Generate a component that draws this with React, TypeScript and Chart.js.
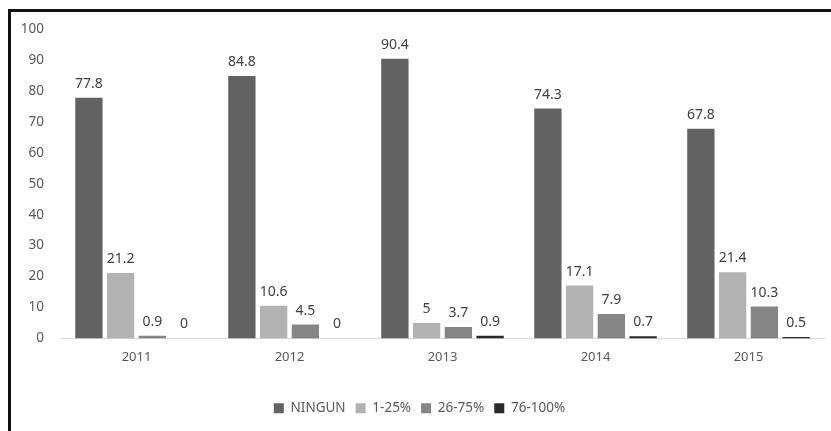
import React, { useEffect, useRef } from "react";
import { Chart, registerables } from "chart.js";

Chart.register(...registerables);

const categories = ["2011", "2012", "2013", "2014", "2015"];
const seriesNames = ["NINGUN", "1-25%", "26-75%", "76-100%"];
const ningun = [77.8, 84.8, 90.4, 74.3, 67.8];
const pct1to25 = [21.2, 10.6, 5, 17.1, 21.4];
const pct26to75 = [0.9, 4.5, 3.7, 7.9, 10.3];
const pct76to100 = [0, 0, 0.9, 0.7, 0.5];
const seriesColors = ["#626262", "#b2b2b2", "#858585", "#2a2a2a"];
const yMin = 0;
const yMax = 100;
const yStep = 10;

const FONT = "'Noto Sans', 'Open Sans', sans-serif";

const valueLabels = {
  id: "valueLabels",
  afterDatasetsDraw(chart: any) {
    const ctx = chart.ctx;
    ctx.save();
    ctx.font = `14px ${FONT}`;
    ctx.fillStyle = "#404040";
    ctx.textAlign = "center";
    ctx.textBaseline = "bottom";
    chart.data.datasets.forEach((ds: any, i: number) => {
      const meta = chart.getDatasetMeta(i);
      meta.data.forEach((el: any, j: number) => {
        const v = ds.data[j];
        ctx.fillText(String(v), el.x, el.y - 7);
      });
    });
    ctx.restore();
  },
};

export default function App() {
  const ref = useRef<HTMLCanvasElement | null>(null);
  useEffect(() => {
    if (!ref.current) return;
    const data = [ningun, pct1to25, pct26to75, pct76to100];
    const chart = new Chart(ref.current, {
      type: "bar",
      data: {
        labels: categories,
        datasets: seriesNames.map((name, i) => ({
          label: name,
          data: data[i],
          backgroundColor: seriesColors[i],
          borderWidth: 0,
          categoryPercentage: 0.83,
          barPercentage: 0.86,
        })),
      },
      options: {
        responsive: false,
        animation: false,
        devicePixelRatio: 1,
        layout: { padding: { left: 14, right: 6, top: 29, bottom: 6 } },
        plugins: {
          tooltip: { enabled: false },
          legend: {
            position: "bottom",
            labels: {
              boxWidth: 10,
              boxHeight: 10,
              padding: 10,
              color: "#595959",
              font: { size: 13.5, family: FONT },
            },
          },
        },
        scales: {
          x: {
            grid: { display: false },
            border: { display: true, color: "#d9d9d9", width: 1 },
            ticks: { color: "#595959", font: { size: 13, family: FONT }, padding: 3 },
            afterFit(scale: any) {
              scale.height = 53;
            },
          },
          y: {
            min: yMin,
            max: yMax,
            grid: { display: false },
            border: { display: false },
            ticks: {
              stepSize: yStep,
              color: "#595959",
              font: { size: 13.5, family: FONT },
              padding: 8,
            },
            afterFit(scale: any) {
              scale.width = 46;
            },
          },
        },
      },
      plugins: [valueLabels],
    });
    return () => chart.destroy();
  }, []);
  return (
    <div style={{ position: "fixed", left: 0, top: 0, width: 831, height: 431, overflow: "hidden", background: "#fff" }}>
      <canvas ref={ref} width={831} height={431} style={{ position: "absolute", left: 0, top: 0 }} />
      <div
        style={{
          position: "absolute",
          left: 8,
          top: 9,
          width: 900,
          height: 500,
          borderLeft: "3px solid #111",
          borderTop: "3px solid #111",
          pointerEvents: "none",
        }}
      />
    </div>
  );
}
